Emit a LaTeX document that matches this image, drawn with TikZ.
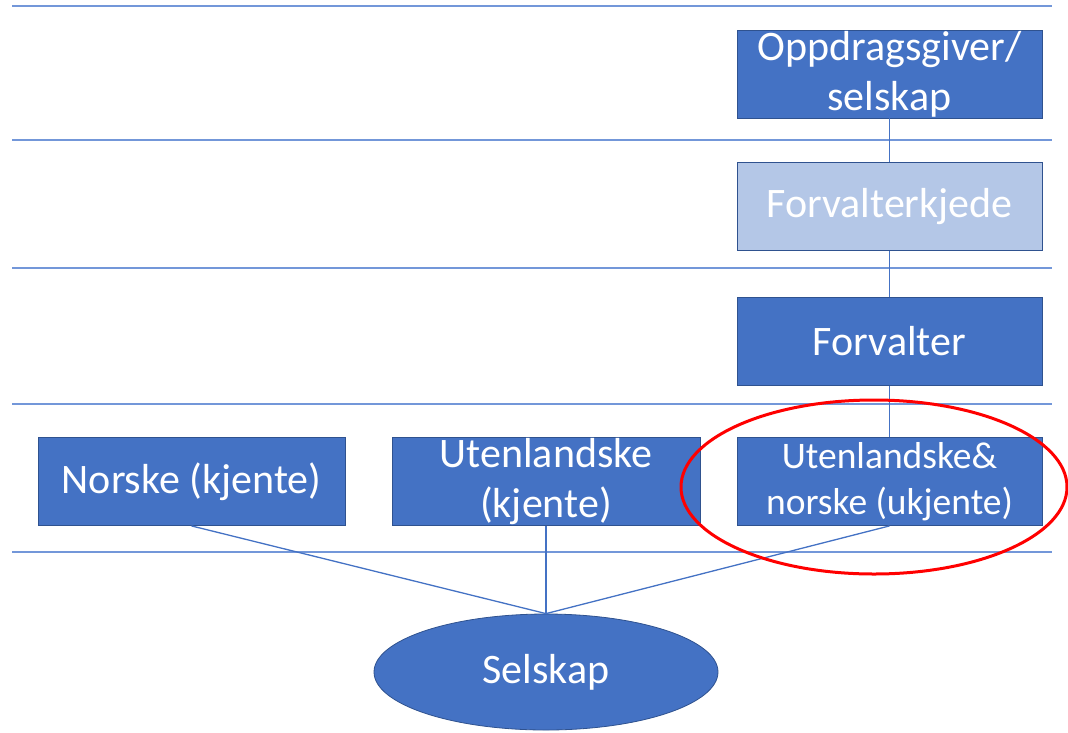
\documentclass[tikz,border=0pt]{standalone}
\usepackage{fontspec}
\setmainfont{Carlito}
\usetikzlibrary{shapes.geometric}
\definecolor{boxblue}{HTML}{4472C4}
\definecolor{boxedge}{HTML}{2F528F}
\definecolor{lightbox}{HTML}{B4C7E7}
\definecolor{rulecol}{HTML}{7397D9}

\begin{document}
\begin{tikzpicture}[x=1pt, y=-1pt,
    box/.style={rectangle, draw=boxedge, line width=0.8pt, fill=boxblue, text=white,
      minimum width=305pt, minimum height=88pt, inner sep=0pt, align=center,
      font=\fontsize{42}{50}\selectfont}]
    \useasboundingbox (0,0) rectangle (1068,732);

    \foreach \y in {6,140,268,404,552}
      \draw[rulecol, line width=1.8pt] (12,\y) -- (1052,\y);

    \node[box] (opp) at (889.5, 74) {Oppdragsgiver/\\selskap};
    \node[box, fill=lightbox] (kje) at (889.5, 206.5) {Forvalterkjede};
    \node[box] (forv) at (889.5, 341.5) {Forvalter};
    \node[box, minimum width=307pt] (nor) at (191.5, 481.5) {Norske (kjente)};
    \node[box, minimum width=308pt] (ute) at (546, 481.5) {Utenlandske\\(kjente)};
    \node[box, font=\fontsize{37.5}{46}\selectfont] (ukj) at (889.5, 481.5) {Utenlandske\&\\norske (ukjente)};
    \node[ellipse, draw=boxedge, line width=0.8pt, fill=boxblue, text=white,
      minimum width=344pt, minimum height=116pt, inner sep=0pt,
      font=\fontsize{42}{50}\selectfont] (sel) at (546, 672) {Selskap};

    % 線を引く
    \draw[boxblue, line width=1.3pt] (opp) -- (kje);
    \draw[boxblue, line width=1.3pt] (kje) -- (forv);
    \draw[boxblue, line width=1.3pt] (forv) -- (ukj);
    \draw[boxblue, line width=1.3pt] (nor.south) -- (sel.north);
    \draw[boxblue, line width=1.3pt] (ute.south) -- (sel.north);
    \draw[boxblue, line width=1.3pt] (ukj.south) -- (sel.north);

    \node[ellipse, draw=red, line width=3pt, minimum width=386pt, minimum height=174pt] (ring) at (874, 487) {};
  \end{tikzpicture}
\end{document}
